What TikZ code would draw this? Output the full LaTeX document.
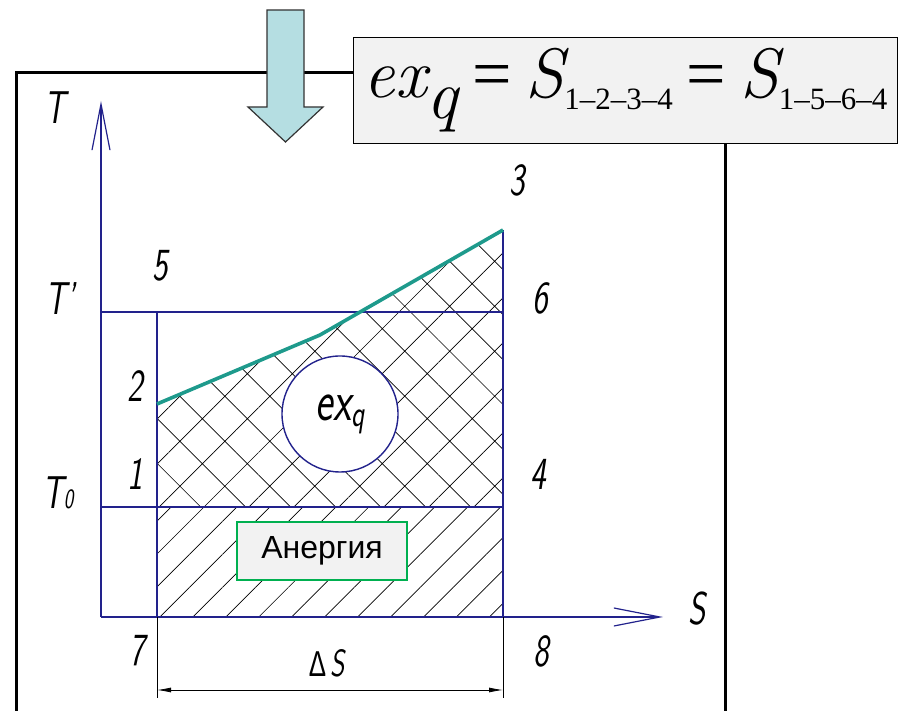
\documentclass[tikz,border=0pt]{standalone}
\usepackage{fontspec}
\usepackage{graphicx}
\usetikzlibrary{arrows.meta,patterns.meta}
\newfontfamily\tnr{Liberation Serif}
\newfontfamily\arial{Liberation Sans}
\definecolor{navy}{HTML}{22228C}
\definecolor{crestline}{HTML}{1E9A8C}
\definecolor{sky}{HTML}{B5DEE2}
\definecolor{paper}{HTML}{F2F2F2}
\definecolor{leaf}{HTML}{00B050}
\newcommand{\gost}[2][46]{\scalebox{.72}[1]{\fontsize{#1}{#1}\selectfont\sffamily\slshape #2}}
\newcommand{\sub}[1]{\raisebox{-.17em}{\tnr\upshape\fontsize{31}{31}\selectfont #1}}

\begin{document}
\begin{tikzpicture}[x=1pt,y=1pt,>=Latex,every node/.style={inner sep=0pt,text=black},axis/.style={navy,line width=1.6pt,-{Straight Barb[length=46pt,width=18pt,line width=1.2pt]}},bound/.style={navy,line width=1.6pt},crest/.style={crestline,line width=3.6pt,line join=round},guide/.style={black,line width=.8pt},dim/.style={guide,{Latex[length=14pt,width=5pt]}-{Latex[length=14pt,width=5pt]}}]
\path[use as bounding box] (0,0) rectangle (899,711);

\coordinate (O) at (101,94);
\coordinate (p1) at (157,204);
\coordinate (p2) at (157,307);
\coordinate (pk) at (320,376);
\coordinate (p3) at (503,481);
\coordinate (p4) at (503,204);
\coordinate (p5) at (157,399);
\coordinate (p6) at (503,399);
\coordinate (p7) at (157,94);
\coordinate (p8) at (503,94);
\coordinate (q0) at (101,204);
\coordinate (q1) at (101,399);
\coordinate (tend) at (101,610);
\coordinate (send) at (663,94);
\coordinate (e7) at (157,13);
\coordinate (e8) at (503,13);
\coordinate (d7) at (157,21);
\coordinate (d8) at (503,21);

\draw[black,line width=3pt] (353,638) -- (16,638) -- (16,0);
\draw[black,line width=3pt] (725,568) -- (725,0);

\fill[pattern={Hatch[angle=45,distance=31.8pt,line width=.7pt]},pattern color=black] (p1) -- (p2) -- (pk) -- (p3) -- (p4) -- cycle;
\fill[pattern={Lines[angle=45,distance=23.3pt,line width=.7pt]},pattern color=black] (p7) rectangle (p4);

\draw[bound] (q1) -- (p6);
\draw[bound] (q0) -- (p4);
\draw[bound] (p5) -- (p7);
\draw[bound] (p3) -- (p8);
\draw[axis] (O) -- (tend);
\draw[axis] (O) -- (send);
\draw[crest] (p2) -- (pk) -- (p3);
\draw[guide] (p7) -- (e7);
\draw[guide] (p8) -- (e8);
\draw[dim] (d7) -- (d8);

\node[circle,draw=navy,fill=white,line width=1.4pt,minimum size=116pt] (exq) at (340,297) {\gost[58]{ex\raisebox{-.1em}{\fontsize{38}{38}\selectfont q}}};
\node[draw=leaf,fill=paper,line width=1.6pt,minimum width=170pt,minimum height=58pt,font=\arial\fontsize{32}{32}\selectfont] (anergy) at (322,160) {Анергия};

\node (lT) at (55,603) {\gost{T}};
\node (lTp) at (60,412) {\gost{T’}};
\node (lT0) at (58,218) {\gost{T\fontsize{28}{28}\selectfont 0}};
\node (lS) at (697,102) {\gost{S}};
\node (lDS) at (327,48) {\gost[38]{{\arial\upshape\fontsize{36}{36}\selectfont Δ}\,S}};
\node (n1) at (135,237) {\gost{1}};
\node (n2) at (135,325) {\gost{2}};
\node (n3) at (517,531) {\gost{3}};
\node (n4) at (538,237) {\gost{4}};
\node (n5) at (160,445) {\gost{5}};
\node (n6) at (540,413) {\gost{6}};
\node (n7) at (137,60) {\gost{7}};
\node (n8) at (541,60) {\gost{8}};

\draw[fill=sky,draw=black!80,line width=1.2pt] (267,701) -- (304,701) -- (304,604) -- (323,604) -- (285.5,569) -- (248,604) -- (267,604) -- cycle;

\node[draw=black,fill=paper,line width=1.3pt,minimum width=544pt,minimum height=106pt,anchor=north west,font=\rmfamily\fontsize{70}{70}\selectfont] (formula) at (353,674) {\itshape ex\raisebox{-.3em}{q}\hspace{.2em}{\tnr\upshape=}\hspace{.2em}S\sub{1–2–3–4}\hspace{.2em}{\tnr\upshape=}\hspace{.2em}S\sub{1–5–6–4}};

\end{tikzpicture}
\end{document}
